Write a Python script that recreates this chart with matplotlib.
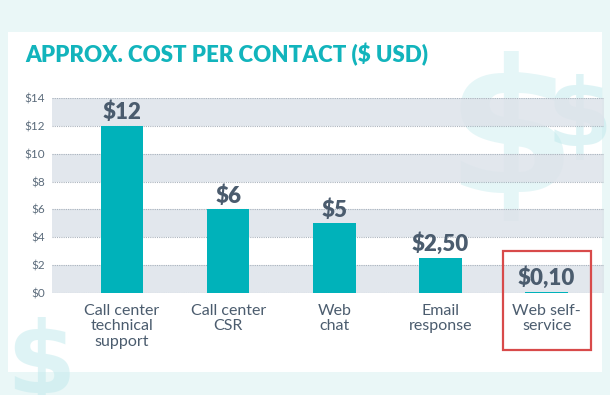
import matplotlib.pyplot as plt
from matplotlib.patches import Rectangle

plt.rcParams['font.family'] = ['Lato', 'DejaVu Sans']

categories = ["Call center\ntechnical\nsupport", "Call center\nCSR", "Web\nchat",
              "Email\nresponse", "Web self-\nservice"]
costs = [12, 6, 5, 2.5, 0.1]
cost_labels = ["$12", "$6", "$5", "$2,50", "$0,10"]
yticks = [0, 2, 4, 6, 8, 10, 12, 14]
ytick_labels = ["$0", "$2", "$4", "$6", "$8", "$10", "$12", "$14"]

teal = "#00b2ba"
slate = "#4b5c6e"

fig = plt.figure(figsize=(6.1, 3.95), dpi=100)
fig.patch.set_facecolor("#eaf7f7")

# white panel
W, H = 610, 395
fig.patches.append(Rectangle((8 / W, 1 - 372 / H), 594 / W, 340 / H,
                             transform=fig.transFigure, facecolor="white",
                             edgecolor="none", zorder=-5))

# decorative dollar signs
fig.text(511 / W, 1 - 142 / H, "$", fontsize=135, fontweight="bold", color="#bfe9ec",
         alpha=0.4, ha="center", va="center", family="DejaVu Sans", zorder=-4)
fig.text(580 / W, 1 - 120 / H, "$", fontsize=68, fontweight="bold", color="#bfe9ec",
         alpha=0.5, ha="center", va="center", family="DejaVu Sans", zorder=-4)
fig.text(41 / W, 1 - 365 / H, "$", fontsize=72, fontweight="bold", color="#bfe9ec",
         alpha=0.5, ha="center", va="center", family="DejaVu Sans", zorder=-4)

fig.text(25 / W, 1 - 55 / H, "APPROX. COST PER CONTACT ($ USD)", color="#12b4bc",
         fontsize=16, fontweight="heavy", va="center", ha="left")

ax = fig.add_axes([52 / W, 1 - 293 / H, 552 / W, 195 / H])
ax.set_facecolor("none")
x = list(range(len(categories)))
ax.set_xlim(-0.66, 4.54)
ax.set_ylim(0, 14)

# alternating bands and dotted grid (semi-transparent so the $ shows through)
for lo in [0, 4, 8, 12]:
    ax.axhspan(lo, lo + 2, color="#dde3ea", alpha=0.85, zorder=0, lw=0)
for t in yticks:
    ax.axhline(t, color="#aab3bd", lw=0.8, ls=(0, (1, 1)), zorder=1)

ax.bar(x, costs, width=0.40, color=teal, zorder=3)
for xi, v, lab in zip(x, costs, cost_labels):
    ax.annotate(lab, (xi, v), xytext=(0, 2), textcoords="offset points",
                ha="center", va="bottom", fontsize=16, fontweight="heavy", color=slate)

ax.set_yticks(yticks)
ax.set_yticklabels(ytick_labels, fontsize=8.5, color="#5b6b7b")
ax.set_xticks(x)
ax.set_xticklabels(categories, fontsize=11.5, color=slate, linespacing=1.12)
ax.tick_params(axis="both", length=0)
ax.tick_params(axis="x", pad=8)
ax.tick_params(axis="y", pad=5)
for s in ax.spines.values():
    s.set_visible(False)

# highlight box around last category
ax.add_patch(Rectangle((3.586, -4.09), 0.828, 7.09, fill=False, edgecolor="#d84a4a",
                       lw=1.6, clip_on=False, zorder=5))

fig.savefig("out.png", dpi=100, facecolor=fig.get_facecolor())
